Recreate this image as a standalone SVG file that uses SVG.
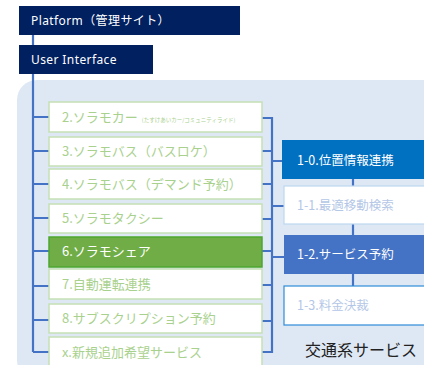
<svg xmlns="http://www.w3.org/2000/svg" width="424" height="365" viewBox="0 0 424 365">
<style>
text{font-family:"Noto Sans CJK JP","Noto Sans",sans-serif;}
.nav{fill:#002060;}
.navt{fill:#ffffff;font-size:12px;letter-spacing:0.4px;font-family:"Noto Sans","Noto Sans CJK JP",sans-serif;}
.gb{fill:#ffffff;stroke:#C5E0B4;stroke-width:1.5;}
.gt{fill:#A9D18E;font-size:13px;}
.ln{fill:none;stroke:#4472C4;stroke-width:2.2;}
.rt{font-size:12.5px;}
</style>
<rect x="17" y="80" width="430" height="300" rx="20" fill="#DEE8F4"/>
<g id="connectors">
<path class="ln" d="M33,35 V352"/>
<path class="ln" d="M33,117 H49 M33,151 H49 M33,184 H49 M33,218 H49 M33,251 H49 M33,286 H49 M33,320 H49 M33,352 H49"/>
<path class="ln" d="M262,118 H272 V352 H262 M262,151 H272 M262,184 H272 M262,219 H272 M262,251 H272 M262,285 H272 M262,321 H272"/>
<path class="ln" d="M272,161 H282 M272,206 H284 M272,257 H284"/>
<path class="ln" d="M353,179 V186 M353,224 V235 M353,274 V286"/>
</g>
<g id="platform">
<rect class="nav" x="19" y="6" width="221" height="29"/>
<text class="navt" x="31" y="25">Platform（管理サイト）</text>
</g>
<g id="ui">
<rect class="nav" x="19" y="45" width="134" height="29"/>
<text class="navt" x="31" y="64">User Interface</text>
</g>
<g id="n2">
<rect class="gb" x="49" y="102" width="213" height="30"/>
<text class="gt" x="62" y="122">2.ソラモカー<tspan font-size="5.5" dx="4">(たすけあいカー/コミュニティライド)</tspan></text>
</g>
<g id="n3">
<rect class="gb" x="49" y="137" width="213" height="29"/>
<text class="gt" x="62" y="156">3.ソラモバス（バスロケ）</text>
</g>
<g id="n4">
<rect class="gb" x="49" y="169" width="213" height="30"/>
<text class="gt" x="62" y="189">4.ソラモバス（デマンド予約）</text>
</g>
<g id="n5">
<rect class="gb" x="49" y="204" width="213" height="29"/>
<text class="gt" x="62" y="223">5.ソラモタクシー</text>
</g>
<g id="n6">
<rect x="49" y="237" width="213" height="30" fill="#70AD47" stroke="#4EA72E" stroke-width="1.5"/>
<text class="gt" x="62" y="256" style="fill:#ffffff">6.ソラモシェア</text>
</g>
<g id="n7">
<rect class="gb" x="49" y="269" width="213" height="30"/>
<text class="gt" x="62" y="289">7.自動運転連携</text>
</g>
<g id="n8">
<rect class="gb" x="49" y="304" width="213" height="29"/>
<text class="gt" x="62" y="323">8.サブスクリプション予約</text>
</g>
<g id="nx">
<rect class="gb" x="49" y="337" width="213" height="40"/>
<text class="gt" x="62" y="357">x.新規追加希望サービス</text>
</g>
<g id="r10">
<rect x="282" y="140" width="150" height="39" fill="#0070C0"/>
<text class="rt" x="297" y="165" fill="#ffffff">1-0.位置情報連携</text>
</g>
<g id="r11">
<rect x="284" y="186" width="150" height="38" fill="#ffffff" stroke="#BDD7EE" stroke-width="1.2"/>
<text class="rt" x="297" y="210" fill="#B4C7E7">1-1.最適移動検索</text>
</g>
<g id="r12">
<rect x="284" y="235" width="150" height="39" fill="#4472C4"/>
<text class="rt" x="297" y="259" fill="#ffffff">1-2.サービス予約</text>
</g>
<g id="r13">
<rect x="284" y="286" width="150" height="39" fill="#ffffff" stroke="#2E8BD8" stroke-width="1.2"/>
<text class="rt" x="297" y="310" fill="#B4C7E7">1-3.料金決裁</text>
</g>
<text x="305" y="356" font-size="16" fill="#222222">交通系サービス</text>
</svg>
